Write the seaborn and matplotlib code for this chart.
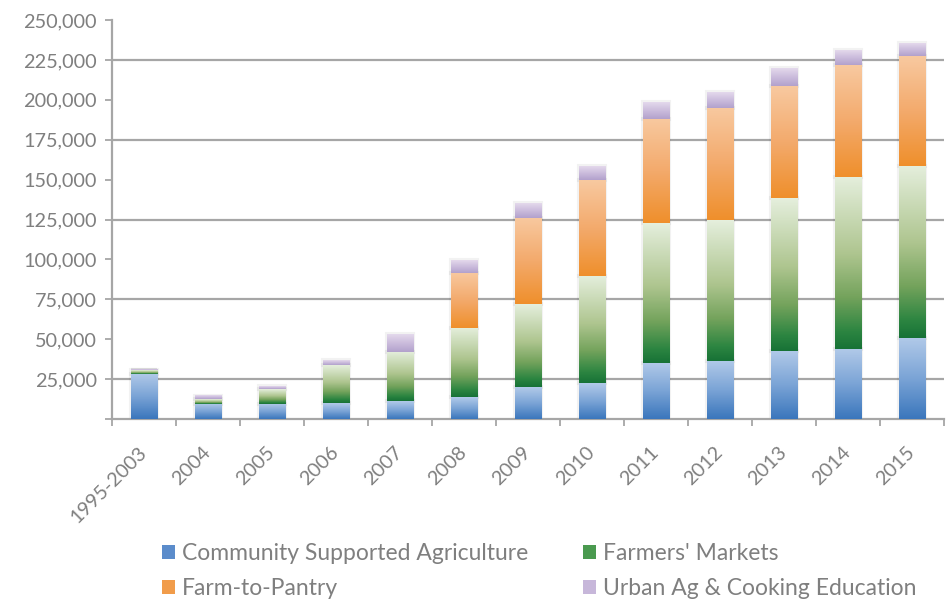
import numpy as np
import pandas as pd
import matplotlib
matplotlib.use("Agg")
import matplotlib.pyplot as plt
import seaborn as sns
from matplotlib.colors import LinearSegmentedColormap
from matplotlib.patches import Patch
from matplotlib.ticker import FixedLocator, FuncFormatter

# Values (people reached per year)
years = ["1995-2003", "2004", "2005", "2006", "2007", "2008", "2009",
         "2010", "2011", "2012", "2013", "2014", "2015"]
csa = [28400, 9400, 9400, 10000, 11000, 13600, 19900,
       22400, 35400, 36500, 42800, 44000, 50900]
farmersMarkets = [2200, 2900, 9200, 23800, 31300, 43600, 51900,
                  67500, 87300, 88300, 95800, 107900, 107900]
farmToPantry = [0, 0, 0, 0, 0, 34600, 54450,
                60100, 65400, 70200, 70150, 70000, 68750]
urbanAg = [400, 1900, 1800, 2900, 10700, 7900, 9350,
           8750, 10650, 10000, 11250, 9350, 8100]

seriesNames = ["Community Supported Agriculture", "Farmers' Markets",
               "Farm-to-Pantry", "Urban Ag & Cooking Education"]
yTicks = list(range(0, 250001, 25000))

# gradient stops (position, colour) bottom -> top for each series
gradients = [
    [(0, "#3a76bc"), (0.5, "#7ba4d6"), (1, "#b2cae9")],
    [(0, "#177236"), (0.1, "#2c8541"), (0.3, "#74a35c"),
     (0.55, "#aec58f"), (1, "#e5efdd")],
    [(0, "#ef8f2b"), (0.5, "#f3aa6c"), (1, "#f8c9a0")],
    [(0, "#b2a1cc"), (0.5, "#cbbcdc"), (1, "#e4d9ec")],
]
legendColors = ["#5b8ccb", "#4a9a4f", "#f19c4a", "#c7b7da"]
textColor = "#7f7f7f"
axisColor = "#a6a6a6"

sns.set_theme(style="white")
plt.rcParams["font.family"] = ["Lato", "DejaVu Sans"]

df = pd.DataFrame({
    "year": years,
    seriesNames[0]: csa,
    seriesNames[1]: farmersMarkets,
    seriesNames[2]: farmToPantry,
    seriesNames[3]: urbanAg,
})

fig = plt.figure(figsize=(9.52, 6.01), dpi=100)
ax = fig.add_axes([0.1176, 0.3028, 0.8740, 0.6639])

grad = np.linspace(0, 1, 256).reshape(-1, 1)
bottom = np.zeros(len(years))
for name, stops in zip(seriesNames, gradients):
    cmap = LinearSegmentedColormap.from_list(name, stops)
    nBefore = len(ax.patches)
    sns.barplot(data=df, x="year", y=name, bottom=bottom, width=0.41,
                color=stops[1][1], errorbar=None, ax=ax, zorder=2)
    for bar in ax.patches[nBefore:]:
        x0, y0 = bar.get_x(), bar.get_y()
        w, h = bar.get_width(), bar.get_height()
        bar.set_facecolor("none")
        bar.set_edgecolor((0, 0, 0, 0.05))
        bar.set_linewidth(3)
        if h > 0:
            ax.imshow(grad, extent=[x0, x0 + w, y0, y0 + h], origin="lower",
                      aspect="auto", cmap=cmap, zorder=3,
                      interpolation="nearest")
    bottom = bottom + df[name].to_numpy()

ax.set_xlim(-0.5, len(years) - 0.5)
ax.set_ylim(0, 250000)
ax.set_xlabel("")
ax.set_ylabel("")

# gridlines only on every other tick, as in the original
for val in yTicks[1::2]:
    ax.axhline(val, color=axisColor, linewidth=1.6, zorder=1)

ax.yaxis.set_major_locator(FixedLocator(yTicks))
ax.yaxis.set_major_formatter(FuncFormatter(lambda v, p: f"{int(v):,}" if v > 0 else ""))
ax.tick_params(axis="y", direction="out", length=5, width=1.3,
               color=axisColor, labelcolor=textColor, labelsize=14.3, pad=6,
               left=True)

ax.xaxis.set_minor_locator(FixedLocator(np.arange(-0.5, len(years), 1)))
ax.tick_params(axis="x", which="major", length=0, labelcolor=textColor,
               labelsize=14.3, pad=22)
ax.tick_params(axis="x", which="minor", direction="out", length=5,
               width=1.3, color=axisColor, bottom=True)
for lbl in ax.get_xticklabels():
    lbl.set_rotation(45)
    lbl.set_ha("right")
    lbl.set_va("center")
    lbl.set_rotation_mode("anchor")

for side in ["top", "right"]:
    ax.spines[side].set_visible(False)
for side in ["left", "bottom"]:
    ax.spines[side].set_color(axisColor)
    ax.spines[side].set_linewidth(1.6)

handles = [Patch(facecolor=c, edgecolor="none") for c in legendColors]
order = [0, 2, 1, 3]
fig.legend([handles[i] for i in order], [seriesNames[i] for i in order],
           loc="upper left", bbox_to_anchor=(0.161, 0.111), ncol=2,
           frameon=False, fontsize=16.5, labelcolor=textColor,
           handlelength=0.55, handleheight=0.55, handletextpad=0.3,
           columnspacing=2.4, labelspacing=0.6, borderaxespad=0)

fig.savefig("out.png", dpi=100)
